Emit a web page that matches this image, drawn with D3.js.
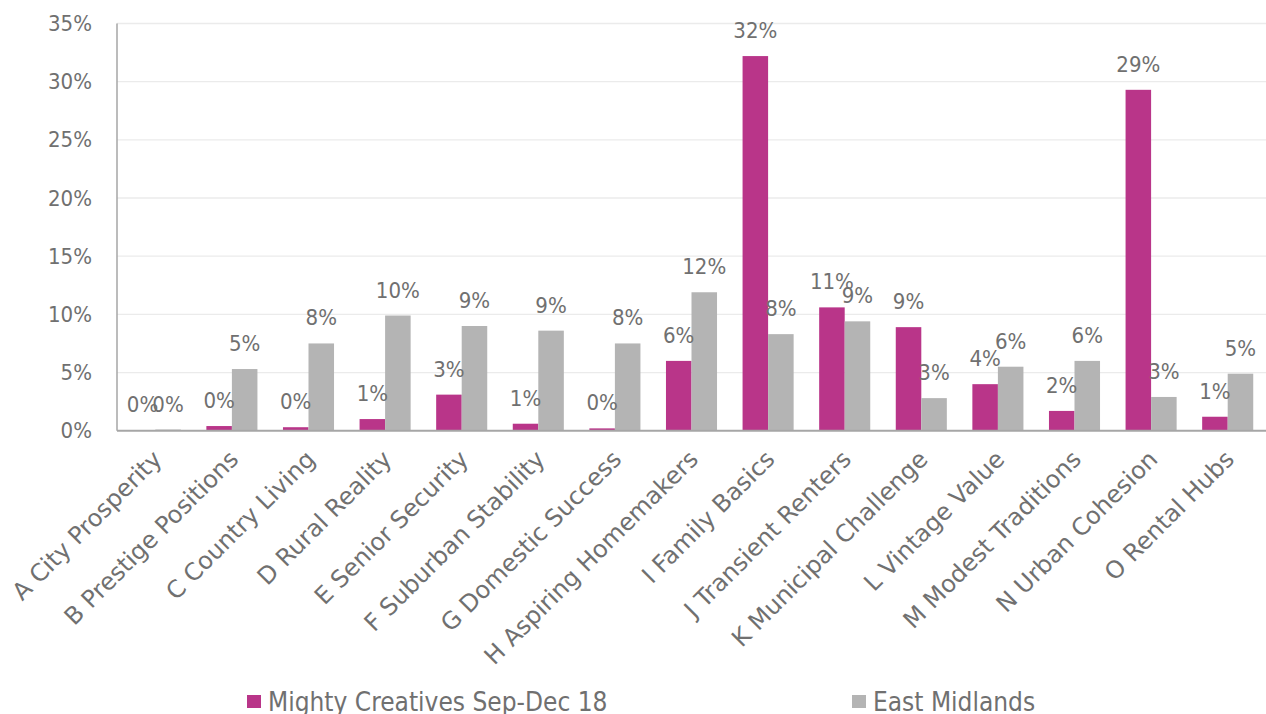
<!DOCTYPE html>
<html>
<head>
<meta charset="utf-8">
<script src="https://cdn.jsdelivr.net/npm/d3@7"></script>
<style>
  html, body { margin: 0; padding: 0; background: #fff; }
  svg { display: block; }
  text { font-family: "DejaVu Sans Condensed", "DejaVu Sans", sans-serif; font-stretch: condensed; fill: #707070; }
</style>
</head>
<body>
<svg id="chart" width="1266" height="714"></svg>
<script>
// Segment categories and the share of each series (percent)
const categories = [
  "A City Prosperity", "B Prestige Positions", "C Country Living", "D Rural Reality",
  "E Senior Security", "F Suburban Stability", "G Domestic Success", "H Aspiring Homemakers",
  "I Family Basics", "J Transient Renters", "K Municipal Challenge", "L Vintage Value",
  "M Modest Traditions", "N Urban Cohesion", "O Rental Hubs"
];
const mightyCreatives = [0.05, 0.4, 0.3, 1.0, 3.1, 0.6, 0.2, 6.0, 32.2, 10.6, 8.9, 4.0, 1.7, 29.3, 1.2];
const eastMidlands    = [0.1, 5.3, 7.5, 9.9, 9.0, 8.6, 7.5, 11.9, 8.3, 9.4, 2.8, 5.5, 6.0, 2.9, 4.9];
const seriesNames = ["Mighty Creatives Sep-Dec 18", "East Midlands"];
const yTicks = [0, 5, 10, 15, 20, 25, 30, 35];

const colors = ["#B93589", "#B4B4B4"];
const series = [mightyCreatives, eastMidlands];

const svg = d3.select("#chart");
const margin = { left: 117, right: 0, top: 23.5, bottom: 283.3 };
const W = 1266, H = 714;

const x = d3.scaleBand().domain(categories).range([margin.left, W - margin.right]).paddingInner(0).paddingOuter(0);
const y = d3.scaleLinear().domain([0, 35]).range([H - margin.bottom, margin.top]);

// each group holds two bars with a 150% gap between groups
const barW = x.bandwidth() / 3;
const xs = d3.scaleBand().domain([0, 1]).range([barW / 2, barW / 2 + 2 * barW]);

// gridlines
svg.append("g").selectAll("line").data(yTicks.filter(d => d > 0)).join("line")
  .attr("x1", margin.left).attr("x2", W - margin.right)
  .attr("y1", d => y(d)).attr("y2", d => y(d))
  .attr("stroke", "#EBEBEB").attr("stroke-width", 1.3);

// y-axis tick labels
const yAxis = d3.axisLeft(y).tickValues(yTicks).tickFormat(d => d + "%").tickSize(0).tickPadding(25);
const gy = svg.append("g").attr("transform", `translate(${margin.left},0)`).call(yAxis);
gy.select(".domain").remove();
gy.selectAll("text").attr("font-size", 22).style("fill", "#707070")
  .style("font-family", "'DejaVu Sans Condensed', 'DejaVu Sans', sans-serif");

// bars
series.forEach((vals, si) => {
  svg.append("g").selectAll("rect").data(vals).join("rect")
    .attr("x", (d, i) => x(categories[i]) + xs(si))
    .attr("width", xs.bandwidth())
    .attr("y", d => y(d))
    .attr("height", d => y(0) - y(d))
    .attr("fill", colors[si]);
});

// value labels
series.forEach((vals, si) => {
  svg.append("g").selectAll("text").data(vals).join("text")
    .attr("x", (d, i) => x(categories[i]) + xs(si) + xs.bandwidth() / 2)
    .attr("y", d => y(d) - 18)
    .attr("text-anchor", "middle")
    .attr("font-size", 22)
    .text(d => Math.round(d) + "%");
});

// axis lines
svg.append("line")
  .attr("x1", margin.left).attr("x2", margin.left)
  .attr("y1", y(35)).attr("y2", y(0))
  .attr("stroke", "#A6A6A6").attr("stroke-width", 1.5);
const xAxis = d3.axisBottom(x).tickSize(0).tickPadding(0);
const gx = svg.append("g").attr("transform", `translate(0,${y(0)})`).call(xAxis);
gx.select(".domain").attr("stroke", "#A6A6A6").attr("stroke-width", 2)
  .attr("d", `M${margin.left},0H${W}`);
gx.selectAll("text")
  .attr("font-size", 24)
  .style("fill", "#707070")
  .style("font-family", "'DejaVu Sans', sans-serif")
  .style("font-stretch", "normal")
  .attr("text-anchor", "end")
  .attr("dy", null)
  .attr("y", 0)
  .attr("transform", "translate(8,30) rotate(-45)");

// legend
const legend = svg.append("g");
const legendX = [247, 852];
seriesNames.forEach((name, i) => {
  legend.append("rect").attr("x", legendX[i]).attr("y", 695).attr("width", 14).attr("height", 13).attr("fill", colors[i]);
  legend.append("text").attr("x", legendX[i] + 21).attr("y", 711).attr("font-size", 26).text(name);
});
</script>
</body>
</html>
